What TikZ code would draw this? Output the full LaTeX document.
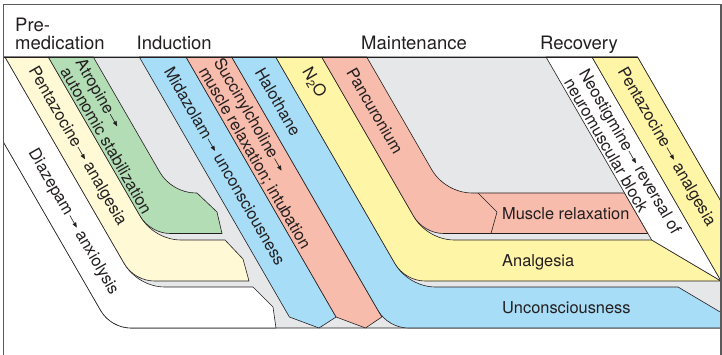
\documentclass[tikz,border=0pt]{standalone}
\usepackage{fontspec}
\setmainfont{TeX Gyre Heros}
\usepackage{xcolor}
\usepackage{tikz}
\usetikzlibrary{arrows.meta}
\definecolor{bggray}{HTML}{E6E7E8}
\definecolor{paleyellow}{HTML}{FFF9D6}
\definecolor{drugyellow}{HTML}{FFF5A6}
\definecolor{druggreen}{HTML}{B2DDB5}
\definecolor{drugblue}{HTML}{A8DDF7}
\definecolor{drugred}{HTML}{F8BCAC}
\definecolor{ink}{HTML}{231F20}
\definecolor{framegray}{HTML}{5A5A5A}

\newcommand{\arw}{\kern1pt\tikz[baseline=-0.55ex]\draw[draw=ink, line width=0.6pt, -{Triangle[length=5pt,width=4pt]}] (0pt,0pt) -- (14pt,0pt);}

\tikzset{
  band/.style={draw=ink, line width=0.6pt, line join=round},
  lbl/.style={font=\fontsize{16.4}{17.5}\selectfont, text=ink, inner sep=0pt},
  dlbl/.style={lbl, rotate=-60},
  head/.style={font=\fontsize{18.5}{18.5}\selectfont, text=ink, inner sep=0pt, anchor=base west},
}

\begin{document}
\begin{tikzpicture}[x=1pt, y=-1pt]
  \useasboundingbox (0,0) rectangle (722,355);

  \begin{scope}
    \clip (3.5,4.5) rectangle (721,355);
    % background
    \path[band, fill=bggray] (-45.7,57) -- (100.8,310.68) .. controls (106.8,321.07) and (118.8,328) .. (130.8,328)
      -- (721,328) -- (721,201.6) -- (637.5,57) -- cycle;

    % premedication
    \path[band, fill=white] (-45.7,57) -- (100.8,310.68) .. controls (106.8,321.07) and (118.8,328) .. (130.8,328)
      -- (276,328) -- (273,307) -- (253,287)
      -- (164.8,287) .. controls (148.6,287) and (132.4,277.65) .. (124.3,263.62) -- (5,57) -- cycle;
    \path[band, fill=paleyellow] (5,57) -- (124.3,263.68) .. controls (130.3,274.07) and (142.3,281) .. (154.3,281)
      -- (249,281) -- (243,259) -- (225,240)
      -- (181,240) .. controls (164.8,240) and (148.6,230.65) .. (140.5,216.62) -- (48.3,57) -- cycle;
    \path[band, fill=druggreen] (48.3,57) -- (140.2,216.18) .. controls (146.2,226.57) and (158.2,233.5) .. (170.2,233.5)
      -- (222,233.5) -- (217,212) -- (197,193)
      -- (195.8,193) .. controls (181.4,193) and (167,184.69) .. (159.8,172.22) -- (93.3,57) -- cycle;

    % induction
    \path[band, fill=drugblue] (139.3,57) -- (289.4,317) -- (319,328) -- (336.1,317) -- (186,57) -- cycle;
    \path[band, fill=drugred] (186,57) -- (336.1,317) -- (365.5,328) -- (381.8,317) -- (231.7,57) -- cycle;

    % maintenance
    \path[band, fill=drugblue] (231.7,57) -- (378.2,310.68) .. controls (384.2,321.07) and (396.2,328) .. (408.2,328)
      -- (721,328) -- (721,312.5) -- (678,287)
      -- (435.5,287) .. controls (419.3,287) and (403.1,277.65) .. (395,263.62) -- (275.7,57) -- cycle;
    \path[band, fill=drugyellow] (275.7,57) -- (395,263.68) .. controls (401,274.07) and (413,281) .. (425,281)
      -- (721,281) -- (651.7,240)
      -- (454.4,240) .. controls (438.2,240) and (422,230.65) .. (413.9,216.62) -- (321.7,57) -- cycle;
    \path[band, fill=drugred] (321.7,57) -- (413.6,216.18) .. controls (419.6,226.57) and (431.6,233.5) .. (443.6,233.5)
      -- (647.9,233.5) -- (624.5,193)
      -- (472.2,193) .. controls (456,193) and (439.8,183.65) .. (431.7,169.62) -- (366.7,57) -- cycle;
    \draw[band] (478,193) -- (497,212) -- (491,233.5);

    % recovery
    \path[band, fill=white] (546,57) -- (592,57) -- (721,281) -- (651.7,240) -- cycle;
    \path[band, fill=drugyellow] (592,57) -- (637.5,57) -- (721,201.6) -- (721,281) -- cycle;
  \end{scope}

  \draw[ink, line width=0.8pt] (3.5,57) -- (637.5,57);
  \draw[framegray, line width=1.4pt] (3.5,4.5) rectangle (721,360);

  \node[head] (hpre) at (15,31.7) {Pre-};
  \node[head] (hmed) at (15,50) {medication};
  \node[head] (hind) at (136.5,50) {Induction};
  \node[head] (hmain) at (361,50) {Maintenance};
  \node[head] (hrec) at (540,50) {Recovery};

  \node[dlbl] (tdiaz) at (73,222) {Diazepam\arw\ anxiolysis};
  \node[dlbl] (tpent) at (77,146.5) {Pentazocine\arw\ analgesia};
  \node[dlbl, align=left] (tatro) at (114,136) {Atropine\arw\\autonomic stabilization};
  \node[dlbl] (tmida) at (225,166) {Midazolam\arw\ unconsciousness};
  \node[dlbl, align=left] (tsucc) at (262,154) {Succinylcholine\arw\\muscle relaxation; intubation};
  \node[dlbl] (thalo) at (278,102) {Halothane};
  \node[dlbl] (tnitro) at (314,83) {N\textsubscript{2}O};
  \node[dlbl] (tpanc) at (375,111) {Pancuronium};
  \node[dlbl, align=left] (tneo) at (623,156) {Neostigmine\arw\ reversal of\\neuromuscular block};
  \node[dlbl] (tpent2) at (666,147) {Pentazocine\arw\ analgesia};

  \node[lbl, anchor=base west] (tmus) at (502,220) {Muscle relaxation};
  \node[lbl, anchor=base west] (tanal) at (502,266.7) {Analgesia};
  \node[lbl, anchor=base west] (tunc) at (502,313.3) {Unconsciousness};
\end{tikzpicture}
\end{document}
